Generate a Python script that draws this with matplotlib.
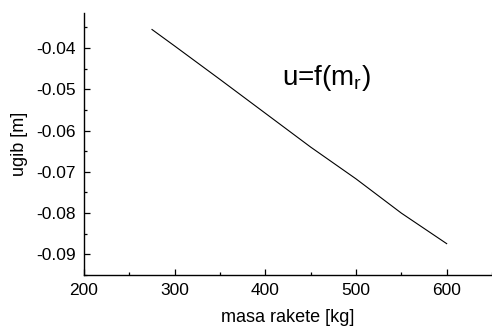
import matplotlib
matplotlib.use("Agg")
import matplotlib.pyplot as plt
from matplotlib.ticker import MultipleLocator

plt.rcParams['font.family'] = ['Liberation Sans', 'DejaVu Sans']

# masa rakete [kg] vs ugib [m]
masa = [275, 300, 350, 400, 450, 500, 550, 600]
ugib = [-0.0355, -0.0395, -0.0476, -0.0558, -0.0640, -0.0717, -0.0800, -0.0874]

fig = plt.figure(figsize=(4.92, 3.27), dpi=100)
ax = fig.add_axes([84/492, 1 - 275/327, (492 - 84)/492, (275 - 13)/327])

ax.plot(masa, ugib, color="black", lw=0.8)

ax.set_xlim(200, 650)
ax.set_ylim(-0.095, -0.0315)
ax.xaxis.set_major_locator(MultipleLocator(100))
ax.xaxis.set_minor_locator(MultipleLocator(50))
ax.yaxis.set_major_locator(MultipleLocator(0.01))
ax.yaxis.set_minor_locator(MultipleLocator(0.005))
ax.tick_params(which="both", direction="in", labelsize=12.5, width=0.9)
ax.tick_params(which="major", length=4, pad=6)
ax.tick_params(which="minor", length=2.5)
ax.yaxis.set_major_formatter(matplotlib.ticker.FormatStrFormatter("%.2f"))

for s in ["top", "right"]:
    ax.spines[s].set_visible(False)
for s in ["left", "bottom"]:
    ax.spines[s].set_linewidth(1.0)

ax.set_xlabel("masa rakete [kg]", fontsize=13, labelpad=8)
ax.set_ylabel("ugib [m]", fontsize=13, labelpad=6)
ax.text(467, -0.0472, r"u=f(m$_\mathregular{r}$)", fontsize=20, ha="center", va="center")

fig.savefig("out.png", dpi=100)
